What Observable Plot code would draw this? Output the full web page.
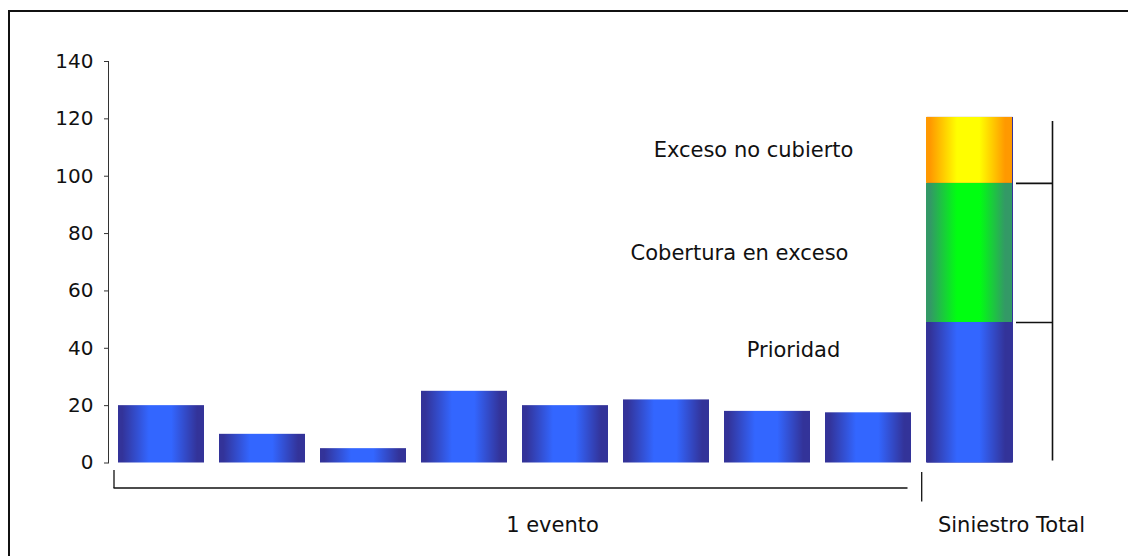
<!DOCTYPE html>
<html>
<head>
<meta charset="utf-8">
<script src="https://cdn.jsdelivr.net/npm/d3@7"></script>
<script src="https://cdn.jsdelivr.net/npm/@observablehq/plot@0.6"></script>
<style>
  html, body { margin: 0; padding: 0; background: #fff; overflow: hidden; }
  #page { position: relative; width: 1128px; height: 556px; overflow: hidden; }
  #chart { position: absolute; left: 0; top: 0; }
  #box { position: absolute; left: 8px; top: 10px; width: 1300px; height: 700px;
         border-left: 2px solid #111; border-top: 2px solid #111; pointer-events: none; }
</style>
</head>
<body>
<div id="page"><div id="chart"></div><div id="box"></div></div>
<script>
// Losses per event and the layered total loss
const events = ["Evento 1", "Evento 2", "Evento 3", "Evento 4", "Evento 5", "Evento 6", "Evento 7", "Evento 8"];
const eventLosses = [20, 10, 5, 25, 20, 22, 18, 17.5];
const totalLabel = "Siniestro Total";
const layers = ["Prioridad", "Cobertura en exceso", "Exceso no cubierto"];
const totalLayers = [49, 48.5, 23];
const yTicks = [0, 20, 40, 60, 80, 100, 120, 140];
const groupLabels = ["1 evento", "Siniestro Total"];

const categories = [...events, totalLabel];
const rows = [
  ...events.map((category, i) => ({category, layer: layers[0], value: eventLosses[i]})),
  ...layers.map((layer, i) => ({category: totalLabel, layer, value: totalLayers[i]}))
];
const cum = d3.cumsum(totalLayers);
const total = cum[cum.length - 1];
const mids = totalLayers.map((v, i) => cum[i] - v / 2);

// Horizontal "cylinder" gradients, dark at the edges and bright in the middle
const gradients = [
  {id: "g-blue", edge: "#333399", mid: "#3366ff"},
  {id: "g-green", edge: "#339966", mid: "#00ff11"},
  {id: "g-yellow", edge: "#ff9900", mid: "#ffff00"}
];
const gradientStops = [[0, "edge"], [0.05, "edge"], [0.36, "mid"], [0.62, "mid"], [0.92, "edge"], [1, "edge"]];
function defs() {
  const d = d3.create("svg:defs");
  for (const g of gradients) {
    const lg = d.append("linearGradient").attr("id", g.id).attr("x1", 0).attr("x2", 1).attr("y1", 0).attr("y2", 0);
    for (const [offset, key] of gradientStops) {
      lg.append("stop").attr("offset", offset).attr("stop-color", g[key]);
    }
  }
  return d.node();
}

const ink = "#111";

const chart = Plot.plot({
  width: 1128,
  height: 556,
  marginTop: 61,
  marginBottom: 93.5,
  marginLeft: 108,
  marginRight: 100,
  style: {fontFamily: "'DejaVu Sans', Verdana, sans-serif", fontSize: "20px", color: ink, background: "transparent"},
  x: {domain: categories, range: [102, 1028], padding: 0.15, axis: null},
  y: {domain: [0, 140], axis: null},
  color: {type: "ordinal", domain: layers, range: gradients.map((g) => `url(#${g.id})`)},
  marks: [
    defs,
    // full-height backing of the total column (shows as a thin edge on its right)
    Plot.barY([total], {x: () => totalLabel, y: (d) => d, fill: "#333399", dx: 1}),
    Plot.barY(rows, {x: "category", y: "value", fill: "layer"}),
    Plot.axisY({ticks: yTicks, tickSize: 4, tickPadding: 11, label: null, stroke: "#333", fontSize: 20}),
    Plot.frame({anchor: "left", stroke: "#333"}),

    // bracket beside the total column
    Plot.ruleX([totalLabel], {x: (d) => d, y1: () => 0, y2: () => total, dx: 83, insetTop: -2, insetBottom: -4, stroke: ink, strokeWidth: 1.6}),
    Plot.tickY(cum.slice(0, 2), {x: () => totalLabel, y: (d) => d, insetLeft: 90, insetRight: -40, stroke: ink, strokeWidth: 1.6}),

    // bracket under the single events
    Plot.ruleY([0], {y: (d) => d, x1: () => events[0], x2: () => events[events.length - 1], dy: 25, insetLeft: -4.5, insetRight: 3.5, stroke: ink, strokeWidth: 1.3}),
    Plot.ruleX([events[0]], {x: (d) => d, y1: () => 0, y2: () => 0, dx: -47.5, insetTop: 7.5, insetBottom: -25.5, stroke: ink, strokeWidth: 1.3}),
    Plot.ruleX([totalLabel], {x: (d) => d, y1: () => 0, y2: () => 0, dx: -47.8, insetTop: 9.5, insetBottom: -39, stroke: ink, strokeWidth: 1.3}),

    // layer labels
    Plot.text([layers[2]], {x: () => totalLabel, y: () => mids[2], text: (d) => d, dx: -216, fontSize: 21, fill: ink}),
    Plot.text([layers[1]], {x: () => totalLabel, y: () => mids[1], text: (d) => d, dx: -230, fontSize: 21, fill: ink}),
    Plot.text([layers[0]], {x: () => totalLabel, y: () => mids[0], text: (d) => d, dx: -176, dy: -42, fontSize: 21, fill: ink}),

    // group labels
    Plot.text([groupLabels[0]], {x: () => events[4], y: () => 0, text: (d) => d, dx: -13, dy: 62.5, fontSize: 21, fill: ink}),
    Plot.text([groupLabels[1]], {x: () => totalLabel, y: () => 0, text: (d) => d, dx: 42, dy: 62.5, fontSize: 21, fill: ink})
  ]
});
document.getElementById("chart").appendChild(chart);
</script>
</body>
</html>
